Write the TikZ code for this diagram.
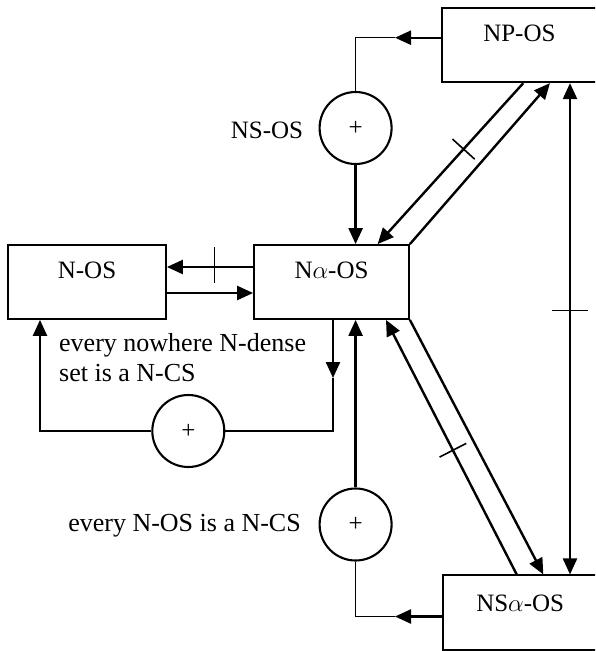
\documentclass[tikz,border=0pt]{standalone}
\usepackage{fontspec}
\setmainfont{Liberation Serif}
\usetikzlibrary{arrows.meta,calc}
\begin{document}
\begin{tikzpicture}[x=1pt,y=-1pt,
  box/.style={draw, line width=1.8pt, inner sep=0pt, text height=33.5pt, text depth=40.5pt, font=\fontsize{25}{30}\selectfont},
  sumnode/.style={draw, circle, line width=2.1pt, minimum size=72pt, inner sep=0pt, font=\fontsize{25}{30}\selectfont},
  lbl/.style={font=\fontsize{25}{30}\selectfont, inner sep=0pt},
  tlbl/.style={font=\fontsize{26}{30}\selectfont, inner sep=0pt},
  arr/.style={line width=2.4pt, -{Triangle[length=16pt,width=14pt]}},
  darr/.style={line width=2.4pt, {Triangle[length=16pt,width=14pt]}-{Triangle[length=16pt,width=14pt]}},
  wire/.style={line width=1.5pt},
  tickmark/.style={line width=1.6pt}
]
\useasboundingbox (0,0) rectangle (595,651);
\clip (0,0) rectangle (595,651);

% boxes
\node[box, minimum width=155.3pt] (npos) at (519.4,45.2) {NP-OS};
\node[box, minimum width=158pt] (nos) at (87,282) {N-OS};
\node[box, minimum width=155pt] (naos) at (331.5,282) {N$\alpha$-OS};
\node[box, minimum width=153.7pt, text height=36.5pt, text depth=38.2pt] (nsaos) at (520.2,612.7) {NS$\alpha$-OS};

% summing circles
\node[sumnode] (c1) at (355.6,128) {+};
\node[sumnode] (c2) at (188.3,431) {+};
\node[sumnode] (c3) at (355.6,524.5) {+};

% texts
\node[lbl] (t1) at (267,130) {NS-OS};
\node[tlbl, align=left, anchor=west] (t2) at (59,358) {every nowhere N-dense\\set is a N-CS};
\node[tlbl, anchor=base east] (t3) at (301,531.5) {every N-OS is a N-CS};

% helper coordinates
\coordinate (xa) at (523.3,0);
\coordinate (xb) at (377.6,0);
\coordinate (xc) at (550,0);
\coordinate (xd) at (570,0);
\coordinate (xe) at (516.7,0);
\coordinate (xf) at (386,0);
\coordinate (xg) at (543.3,0);
\coordinate (ya) at (0,267);
\coordinate (yb) at (0,293);
\coordinate (k1) at (395,37.7);
\coordinate (k2) at (333,378);
\coordinate (k3) at (40,0);
\coordinate (k4) at (395,616.5);

% NP-OS -> NS-OS circle -> Nalpha-OS
\draw[arr] (npos.west |- k1) -- (k1);
\draw[wire] (k1) -| (c1.north);
\draw[arr] (c1.south) -- (c1 |- naos.north);

% NP-OS <-> Nalpha-OS diagonals
\draw[arr] (xa |- npos.south) -- coordinate[pos=0.41] (m1) (xb |- naos.north);
\draw[tickmark] ($(m1)!15pt!90:(xb |- naos.north)$) -- ($(m1)!15pt!-90:(xb |- naos.north)$);
\draw[arr] (naos.north east) -- (xc |- npos.south);

% NP-OS <-> NSalpha-OS vertical
\draw[darr] (xd |- npos.south) -- coordinate[pos=0.4625] (m2) (xd |- nsaos.north);
\draw[tickmark] ($(m2)+(-17.6,0)$) -- ($(m2)+(17.6,0)$);

% N-OS <-> Nalpha-OS
\draw[arr] (naos.west |- ya) -- coordinate[pos=0.45] (m3) (nos.east |- ya);
\draw[tickmark] ($(m3)+(0,-20)$) -- ($(m3)+(0,16)$);
\draw[arr] (nos.east |- yb) -- (naos.west |- yb);

% left loop
\draw[arr] (naos.south -| k2) -- (k2);
\draw[wire] (k2) |- (c2.east);
\draw[arr] (c2.west) -| (k3 |- nos.south);

% lower loop
\draw[arr] (nsaos.west |- k4) -- (k4);
\draw[wire] (k4) -| (c3.south);
\draw[arr] (c3.north) -- (c3 |- naos.south);

% Nalpha-OS <-> NSalpha-OS diagonals
\draw[arr] (xe |- nsaos.north) -- coordinate[pos=0.488] (m4) (xf |- naos.south);
\draw[tickmark] ($(m4)!15pt!90:(xf |- naos.south)$) -- ($(m4)!15pt!-90:(xf |- naos.south)$);
\draw[arr] (naos.south east) -- (xg |- nsaos.north);
\end{tikzpicture}
\end{document}
